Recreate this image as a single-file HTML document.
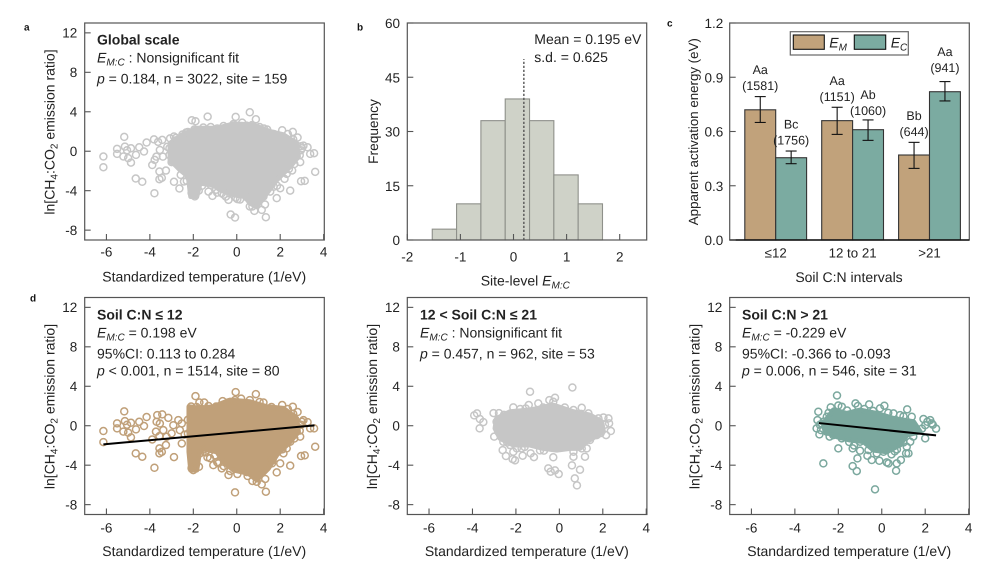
<!DOCTYPE html>
<html><head><meta charset="utf-8"><title>Apparent activation energy panels</title>
<style>
html,body{margin:0;padding:0;background:#fff}
svg{display:block}
text{font-family:"Liberation Sans",sans-serif;font-size:14px;fill:#222;text-rendering:geometricPrecision}
.pl{font-weight:bold;font-size:10px;fill:#111}
.b{font-weight:bold}
.i{font-style:italic}
.s{font-size:10px;font-style:italic}
</style></head>
<body>
<svg id="fig" width="996" height="579" viewBox="0 0 996 579" xmlns="http://www.w3.org/2000/svg">
<g id="marks"></g>
<g>
<text class="pl" x="24" y="30.7">a</text>
<text class="pl" x="357" y="30.7">b</text>
<text class="pl" x="667" y="26.7">c</text>
<text class="pl" x="30" y="301.7">d</text>
</g>
<g>
<text class="b" x="97" y="44.7">Global scale</text>
<text x="97" y="62.7"><tspan class="i">E</tspan><tspan class="s" dy="3">M:C</tspan><tspan dy="-3"> : Nonsignificant fit</tspan></text>
<text x="97" y="83.5"><tspan class="i">p</tspan> = 0.184, n = 3022, site = 159</text>
</g>
<g>
<text class="b" x="97" y="319.3">Soil C:N ≤ 12</text>
<text x="97" y="337.3"><tspan class="i">E</tspan><tspan class="s" dy="3">M:C</tspan><tspan dy="-3"> = 0.198 eV</tspan></text>
<text x="97" y="358.3">95%CI: 0.113 to 0.284</text>
<text x="97" y="375.7"><tspan class="i">p</tspan> &lt; 0.001, n = 1514, site = 80</text>
</g>
<g>
<text class="b" x="420" y="319.3">12 &lt; Soil C:N ≤ 21</text>
<text x="420" y="337.3"><tspan class="i">E</tspan><tspan class="s" dy="3">M:C</tspan><tspan dy="-3"> : Nonsignificant fit</tspan></text>
<text x="420" y="358.3"><tspan class="i">p</tspan> = 0.457, n = 962, site = 53</text>
</g>
<g>
<text class="b" x="742" y="319.3">Soil C:N &gt; 21</text>
<text x="742" y="337.3"><tspan class="i">E</tspan><tspan class="s" dy="3">M:C</tspan><tspan dy="-3"> = -0.229 eV</tspan></text>
<text x="742" y="358.3">95%CI: -0.366 to -0.093</text>
<text x="742" y="375.7"><tspan class="i">p</tspan> = 0.006, n = 546, site = 31</text>
</g>
<g>
<text x="534.3" y="44">Mean = 0.195 eV</text>
<text x="534.3" y="62">s.d. = 0.625</text>
</g>
<text x="480.7" y="285.6">Site-level <tspan class="i">E</tspan><tspan class="s" dy="3">M:C</tspan></text>
<text transform="translate(378,131.5) rotate(-90)" text-anchor="middle" style="font-size:13.7px">Frequency</text>
<text transform="translate(698,131.7) rotate(-90)" text-anchor="middle" style="font-size:13.3px">Apparent activation energy (eV)</text>
<text x="849" y="282" text-anchor="middle">Soil C:N intervals</text>
<g>
<rect x="790.3" y="31.7" width="118" height="23.3" fill="#fff" stroke="#666" stroke-width="1.2"/>
<rect x="793.3" y="35" width="31" height="14.3" fill="#c1a27b" stroke="#111" stroke-width="1.1"/>
<text x="829.3" y="47.7"><tspan class="i">E</tspan><tspan class="s" dy="3">M</tspan></text>
<rect x="854.3" y="35" width="31.4" height="14.3" fill="#7baba1" stroke="#111" stroke-width="1.1"/>
<text x="890.7" y="47.7"><tspan class="i">E</tspan><tspan class="s" dy="3">C</tspan></text>
</g>
<script>
// ---------- scatter data (x = standardized temperature, y = ln ratio) ----------
var globalCore = [[-3.07,.81],[-2.53,1.66],[-1.84,2.33],[-.92,2.33],[-.15,2.77],[.77,2.67],[1.54,1.99],[2.15,1.66],[2.76,.81],[2.84,-.54],[2.46,-1.55],[1.84,-2.91],[1.38,-4.26],[.92,-5.61],[.61,-5.27],[.38,-4.59],[-.15,-4.43],[-.77,-3.92],[-1.08,-3.41],[-1.69,-3.24],[-1.84,-4.59],[-2.12,-4.59],[-2.23,-2.57],[-2.61,-1.89],[-3.07,-.88]];
var globalPoints = [[-6.14,-.54],[-6.14,-1.62],[-5.51,.24],[-5.51,-.27],[-5.18,1.45],[-5.15,.47],[-5.22,-.54],[-5,-.7],[-4.87,.3],[-4.87,-1.15],[-5.05,.1],[-4.64,-.37],[-4.49,.4],[-4.27,-.03],[-4.15,.88],[-3.81,1.2],[-3.43,1.15],[-3.62,.95],[-4.65,-2.77],[-4.35,-3.1],[-3.79,-4.26],[-3.89,-1.4],[-3.7,-.55],[-3.78,-.88],[-3.54,.13],[-3.56,-2.06],[-3.56,-2.84],[-3.45,-2.7],[-3.26,-1.96],[-2.89,-3.1],[-2.64,-3.78],[-2.43,-3.07],[-2.58,-2.4],[-3.07,1.3],[-2.89,1.49],[-3.2,.45],[-3.4,-.55],[-3,-1.1],[-2.8,1.35],[-2.07,3.14],[-1.9,3.04],[-1.34,3.51],[-.05,3.48],[.6,3.95],[.88,3.24],[-.15,2.76],[-.61,2.56],[-1.54,2.4],[-2.33,1.9],[.25,2.9],[.7,2.65],[1.25,2.3],[2.09,2.13],[2.58,1.96],[2.8,1.39],[3.07,.57],[3.26,.4],[3.38,-.27],[3.56,-.2],[3.61,-2.09],[2.96,-3.04],[3.13,-3],[2.46,-3.99],[2.92,-1.1],[2.3,-2.3],[2.55,-1.95],[2.2,-2.8],[1.84,-4.76],[1.34,-6.69],[.81,-6.05],[1.15,-5.95],[-.28,-6.42],[-.08,-6.72],[-2,-4.4],[-2.08,-4.22],[-1.93,-4.58],[-1.12,-4.53],[-.38,-4.93],[.03,-4.86],[.46,-4.66],[1.23,-4.59],[1.54,-4.09],[2,-3.75],[-1.3,-4.09],[-.69,-4.26],[1.3,-5.4],[.72,-5.6],[1.7,-3.6],[1.85,-3.5],[-1.35,-3.2],[-1.2,-3.4],[-.95,-3.9],[-1.6,-3.5],[-1.75,-4],[-2.3,-3],[-.5,-4.6],[.15,-4.9],[3,.3],[2.95,.5],[-2.8,1.1],[-2.5,1.7],[-2.25,1.95],[-1.95,2.2],[-1.2,2.45],[-.9,2.3],[.45,2.6],[1.05,2.45],[1.4,2.2],[1.7,1.75],[2.35,1.75],[2.6,1.2],[2.95,.1],[2.9,-.4],[2.65,-1.3],[2.4,-1.8],[1.6,-3.4],[1.2,-4.2],[.9,-5],[.6,-5.6],[-.05,-4.7],[-.6,-4.4],[-.9,-4.2],[-1.5,-3.1],[-2.3,-1.9],[-2.6,-1.5],[-2.95,-1],[-3.1,-.4],[-3.1,.3]];
var lowCore = [[-2.2,1.93],[-1.69,1.76],[-1.08,1.93],[-.31,2.6],[.61,2.43],[1.38,1.93],[2.15,1.76],[2.76,.74],[2.84,-.61],[2.46,-1.62],[1.84,-2.97],[1.46,-4.32],[.92,-5.51],[.54,-4.83],[-.15,-4.49],[-.61,-3.65],[-.92,-2.64],[-1.69,-2.3],[-1.84,-4.49],[-2.12,-4.49],[-2.2,-2.64]];
var lowPoints = [[-6.14,-.54],[-6.14,-1.66],[-5.51,.24],[-5.51,-.27],[-5.18,1.45],[-5.15,.47],[-5.22,-.6],[-5,-.7],[-4.87,.3],[-4.87,-1.18],[-5.05,.1],[-4.64,-.37],[-4.49,.4],[-4.27,-.03],[-4.15,.88],[-4.65,-2.8],[-4.35,-3.14],[-3.79,-4.26],[-3.89,-1.39],[-3.66,1.08],[-3.43,1.15],[-3.69,.4],[-3.54,.22],[-3.72,-.6],[-3.56,-1.05],[-3.56,-2.3],[-3.56,-2.8],[-3.45,-2.65],[-3.26,-1.96],[-2.89,-3.18],[-3.15,.8],[-2.92,.05],[-3.38,-.45],[-2.69,.57],[-2.53,.23],[-2.53,-1.8],[-3,-.78],[-3.23,-1.12],[-2.62,-.45],[-2.4,-.9],[-1.9,3],[-1.72,2.36],[-1.5,2.36],[-.65,2.5],[-.05,3.41],[-.08,2.6],[.6,2.6],[.88,3.2],[1.23,2.36],[2.09,2.1],[2.58,1.93],[2.8,1.39],[3.07,.57],[3.26,.37],[3.38,-.27],[3.56,-.27],[3.61,-2.13],[2.96,-3.07],[3.13,-3],[2.46,-4.05],[2.92,-1.11],[-.08,-6.76],[1.34,-6.69],[1.15,-5.95],[.72,-5.6],[.92,-5.68],[1.31,-5.4],[1.84,-4.73],[-.38,-5],[.03,-4.9],[.46,-4.7],[-2,-4.5],[-2.08,-4.3],[-1.08,-4],[-1.35,-3.2],[-1.23,-3.3],[-.85,-3.82],[-.69,-4.32],[-1.69,-2.8],[-1.74,-4.16],[2,-3.82],[1.62,-3.82],[2.3,-2.3],[2.15,-2.8],[2.46,-1.62],[-1.45,-2.7],[-1,-3],[-.6,-4.1],[1.65,-3.5],[3,.4],[-2.1,1.95],[-1.85,1.9],[-1.3,2],[-.95,1.95],[-.4,2.35],[.2,2.75],[1.05,2.4],[1.6,1.9],[2.35,1.7],[2.6,1.2],[2.95,.1],[2.9,-.5],[2.65,-1.3],[2.1,-2.4],[1.55,-3.4],[1.25,-4.5],[.5,-5.1],[-.3,-4.6],[-.9,-3.7],[-1.5,-2.4],[-2.25,-.8],[-2.25,.6]];
var midCore = [[-2.89,.74],[-2.27,1.42],[-1.35,1.59],[-.28,2.09],[.65,1.42],[1.41,1.08],[1.95,.41],[2.03,-.61],[1.26,-1.62],[.95,-2.3],[.49,-2.3],[-.12,-2.47],[-.74,-2.3],[-1.35,-1.96],[-2.12,-1.96],[-2.73,-1.28],[-2.96,-.27]];
var midPoints = [[-3.92,1.05],[-3.79,1.25],[-3.66,.68],[-3.5,.37],[-3.67,-.27],[-3.03,1.28],[-2.78,1.28],[-1.35,3.45],[-1.41,2.1],[-.97,2.26],[-.46,2.6],[-.2,2.84],[.6,3.88],[1.03,1.82],[-2.12,1.86],[-3,-1.11],[-2.61,-2.47],[-2.46,-3.07],[-2.15,-3.38],[-2.04,-3.51],[-2.12,-2.64],[-1.69,-3.04],[-1.32,-2.8],[-1.17,-3.18],[-.51,-4.32],[-.4,-4.66],[-.2,-4.53],[-.03,-4.9],[-.28,-3.2],[.58,-4.02],[.95,-4.46],[.71,-5.34],[.81,-6.05],[.65,-3.14],[1.18,-3.14],[-.71,-2.53],[-1.74,-2.3],[2.03,.84],[2.26,.74],[2.37,-.54],[2.15,-.95],[2.29,.24],[1.8,.74],[1.34,1.25],[.65,1.59],[-2.89,.4],[-2.81,-.61],[-2.58,-1.62],[-2.27,-1.96],[-1.96,-2.3],[-.89,-2.5],[1.03,-2.3],[1.26,-2.3],[.65,-2.64],[1.41,-1.45],[1.72,-.95],[-.28,2.43],[.25,1.85],[-1.8,1.7],[-2.55,1.1],[-1.55,1.75],[-.75,1.85],[1,1.2],[2.1,.1],[1.9,-.75],[-1.6,-2.15],[-2.4,-1.7]];
var highCore = [[-2.69,.24],[-2.23,1.59],[-1.61,1.25],[-1,1.59],[-.23,1.25],[.54,.74],[1.46,.41],[1.77,-.61],[1.15,-.95],[.84,-1.96],[.23,-2.64],[-.38,-2.47],[-.84,-1.62],[-1.46,-1.45],[-2.07,-1.11],[-2.61,-.61]];
var highPoints = [[-2.92,1.42],[-2.96,.57],[-3,-.27],[-2.87,-.88],[-2.69,-3.82],[-2.06,3.07],[-2.35,1.86],[-1.84,1.93],[-2,2.05],[-1.21,2.26],[-1.1,2],[-.58,2.16],[.12,2.03],[-.08,1.76],[1.17,1.66],[-2,-2.3],[-1.34,-4.09],[-1.15,-4.6],[-1.12,-3.31],[-1.34,-2.3],[-1.28,-2],[-1,-2.53],[-.31,-6.45],[-.46,-3.48],[-.66,-3.04],[-.11,-3.55],[.23,-3.72],[.31,-3.82],[.66,-4.56],[.69,-3.82],[.88,-3.48],[1.12,-2.8],[1.23,-2.8],[1.15,-2.13],[1.31,-1.62],[2,-1.28],[2.5,-.3],[2.23,.57],[2.3,.24],[1.92,.68],[2,.05],[1.38,.91],[.84,1.08],[.54,1.25],[.08,-2.64],[-.23,-2.8],[-.61,-2.47],[-1,-1.62],[-1.84,-1.28],[-2.23,-.95],[-2.53,-.61],[-2.69,.4],[-2.53,.91],[-2.75,.2],[1.6,-.5],[1.45,-1.1],[1,-1.7],[.7,-2.4],[.45,-2.9],[-2.85,.1],[-2.8,-.45],[-2.45,1.3],[-1.6,1.55],[-.8,1.7],[-.4,1.5],[.3,1.3],[1,.95],[2.1,.4],[2.35,.1],[1.85,-.3],[-1.5,-1.65],[-2.4,-1.1],[.6,-2.6]];
// ---------- fit lines ----------
var lowFitX = [-6.14,3.58];
var lowFitY = [-1.89,0.03];
var highFitX = [-2.89,2.5];
var highFitY = [0.27,-0.98];
// ---------- axis ticks ----------
var scatterXTicks = [-6,-4,-2,0,2,4];
var scatterYTicks = [12,8,4,0,-4,-8];
var histXTicks = [-2,-1,0,1,2];
var histYTicks = [0,15,30,45,60];
var barYTicks = ["0.0","0.3","0.6","0.9","1.2"];
// ---------- histogram ----------
var histStart = -1.53;
var histBinWidth = 0.458;
var histCounts = [3,10,33,39,33,18,10];
var histMean = 0.195;
var histMeanTop = 50;
// ---------- bars ----------
var barCategories = ["≤12","12 to 21",">21"];
var emValues = [0.72,0.66,0.47];
var ecValues = [0.455,0.61,0.82];
var emLow = [0.65,0.584,0.396];
var emHigh = [0.793,0.734,0.54];
var ecLow = [0.422,0.551,0.769];
var ecHigh = [0.492,0.664,0.876];
var emLetters = ["Aa","Aa","Bb"];
var emCounts = ["(1581)","(1151)","(644)"];
var ecLetters = ["Bc","Ab","Aa"];
var ecCounts = ["(1756)","(1060)","(941)"];

var NS = "http://www.w3.org/2000/svg";
var root = document.getElementById("marks");
var tickStyle = "font-size:13.5px";
function mk(parent, tag, name, attrs, txt) {
  var el = document.createElementNS(NS, tag);
  
  
  for (var k in attrs) el.setAttribute(k, attrs[k]);
  if (txt !== undefined) el.textContent = txt;
  parent.appendChild(el);
  return el;
}
function frame(g, prefix, L, T, R, B) {
  mk(g, "rect", prefix + "-frame", {x:L, y:T, width:R-L, height:B-T, fill:"none", stroke:"#555", "stroke-width":1.2});
}
function scatterPanel(prefix, L, T, color, core, pts, fitX, fitY, tickGap) {
  var R = L + 239.6, B = T + 217;
  var sx = function (v) { return L + (v + 7) * 239.6 / 11.03; };
  var sy = function (v) { return T + (13 - v) * 217 / 22; };
  var g = mk(root, "g", prefix + "-panel", {});
  mk(g, "polygon", prefix + "-dense-points", {
    points: core.map(function (p) { return sx(p[0]) + "," + sy(p[1]); }).join(" "),
    fill: color, stroke: color, "stroke-width": 5, "stroke-linejoin": "round"
  });
  pts.forEach(function (p) {
    mk(g, "circle", prefix + "-point", {cx:sx(p[0]), cy:sy(p[1]), r:3.5, fill:"none", stroke:color, "stroke-width":1.5});
  });
  if (fitX) {
    mk(g, "line", prefix + "-fit-line", {x1:sx(fitX[0]), y1:sy(fitY[0]), x2:sx(fitX[1]), y2:sy(fitY[1]), stroke:"#000", "stroke-width":2});
  }
  frame(g, prefix, L, T, R, B);
  scatterXTicks.forEach(function (t) {
    mk(g, "line", prefix + "-x-tick", {x1:sx(t), x2:sx(t), y1:B, y2:B-6, stroke:"#555", "stroke-width":1.1});
    mk(g, "text", prefix + "-x-tick-label", {x:sx(t), y:B+tickGap, "text-anchor":"middle", style:tickStyle}, String(t));
  });
  scatterYTicks.forEach(function (t) {
    mk(g, "line", prefix + "-y-tick", {x1:L, x2:L+6, y1:sy(t), y2:sy(t), stroke:"#555", "stroke-width":1.1});
    mk(g, "text", prefix + "-y-tick-label", {x:L-7.4, y:sy(t)+4.7, "text-anchor":"end", style:tickStyle}, String(t));
  });
  mk(g, "text", prefix + "-x-title", {x:L+119.5, y:B+41.7, "text-anchor":"middle"}, "Standardized temperature (1/eV)");
  var yt = mk(g, "text", prefix + "-y-title", {transform:"translate(" + (L-30.4) + "," + (T+109) + ") rotate(-90)", "text-anchor":"middle"});
  yt.appendChild(document.createTextNode("ln[CH"));
  mk(yt, "tspan", prefix + "-y-title-sub-4", {"font-size":"10", dy:3}, "4");
  mk(yt, "tspan", prefix + "-y-title-mid", {dy:-3}, ":CO");
  mk(yt, "tspan", prefix + "-y-title-sub-2", {"font-size":"10", dy:3}, "2");
  mk(yt, "tspan", prefix + "-y-title-end", {dy:-3}, " emission ratio]");
}
scatterPanel("global", 84.7, 23, "#c6c6c6", globalCore, globalPoints, null, null, 16.7);
scatterPanel("low-cn", 84.7, 297.5, "#c0a079", lowCore, lowPoints, lowFitX, lowFitY, 18);
scatterPanel("mid-cn", 407.3, 297.5, "#c6c6c6", midCore, midPoints, null, null, 18);
scatterPanel("high-cn", 729.7, 297.5, "#7ba89e", highCore, highPoints, highFitX, highFitY, 18);

(function histogram() {
  var L = 407.3, R = 646.7, T = 23, B = 240;
  var sx = function (v) { return L + (v + 2) * 53.1; };
  var sy = function (v) { return B - v * 217 / 60; };
  var g = mk(root, "g", "histogram-panel", {});
  histCounts.forEach(function (c, i) {
    var x0 = sx(histStart + i * histBinWidth);
    var x1 = sx(histStart + (i + 1) * histBinWidth);
    mk(g, "rect", "histogram-bar", {x:x0, y:sy(c), width:x1-x0, height:B-sy(c), fill:"#cfd2c8", stroke:"#8e908a", "stroke-width":1.1});
  });
  mk(g, "line", "histogram-mean-line", {x1:sx(histMean), x2:sx(histMean), y1:sy(0), y2:sy(histMeanTop), stroke:"#555", "stroke-width":1.4, "stroke-dasharray":"2.2 1.8"});
  frame(g, "histogram", L, T, R, B);
  histXTicks.forEach(function (t) {
    mk(g, "line", "histogram-x-tick", {x1:sx(t), x2:sx(t), y1:B, y2:B-6, stroke:"#555", "stroke-width":1.1});
    mk(g, "text", "histogram-x-tick-label", {x:sx(t), y:B+21.7, "text-anchor":"middle", style:tickStyle}, String(t));
  });
  histYTicks.forEach(function (t) {
    mk(g, "line", "histogram-y-tick", {x1:L, x2:L+6, y1:sy(t), y2:sy(t), stroke:"#555", "stroke-width":1.1});
    mk(g, "text", "histogram-y-tick-label", {x:L-7.3, y:sy(t)+5, "text-anchor":"end", style:tickStyle}, String(t));
  });
})();

(function bars() {
  var L = 729.7, R = 969.3, T = 23, B = 240;
  var sy = function (v) { return B - v * 217 / 1.2; };
  var groupCenter = function (i) { return 775.7 + i * 76.9; };
  var w = 30.9;
  var g = mk(root, "g", "bars-panel", {});
  function series(name, color, values, low, high, letters, counts, side, shift) {
    values.forEach(function (v, i) {
      var x0 = groupCenter(i) + (side < 0 ? -w : 0);
      mk(g, "rect", name + "-bar", {x:x0, y:sy(v), width:w, height:B-sy(v), fill:color, stroke:"#333", "stroke-width":1.1});
      var cx = x0 + w / 2;
      mk(g, "line", name + "-error-bar", {x1:cx, x2:cx, y1:sy(low[i]), y2:sy(high[i]), stroke:"#111", "stroke-width":1.1});
      mk(g, "line", name + "-error-cap-top", {x1:cx-5.5, x2:cx+5.5, y1:sy(high[i]), y2:sy(high[i]), stroke:"#111", "stroke-width":1.1});
      mk(g, "line", name + "-error-cap-bottom", {x1:cx-5.5, x2:cx+5.5, y1:sy(low[i]), y2:sy(low[i]), stroke:"#111", "stroke-width":1.1});
      var top = sy(high[i]) + shift(i);
      mk(g, "text", name + "-significance", {x:cx, y:top-22.5, "text-anchor":"middle", style:"font-size:12.5px"}, letters[i]);
      mk(g, "text", name + "-sample-count", {x:cx, y:top-6.5, "text-anchor":"middle", style:"font-size:12.5px"}, counts[i]);
    });
  }
  series("em", "#c1a27b", emValues, emLow, emHigh, emLetters, emCounts, -1, function () { return 0; });
  series("ec", "#7baba1", ecValues, ecLow, ecHigh, ecLetters, ecCounts, 1, function (i) { return i === 1 ? 1.5 : (i === 2 ? -3 : 0); });
  frame(g, "bars", L, T, R, B);
  mk(g, "line", "bars-baseline", {x1:L, x2:R, y1:B, y2:B, stroke:"#111", "stroke-width":1.4});
  barYTicks.forEach(function (t) {
    mk(g, "line", "bars-y-tick", {x1:L, x2:L+6, y1:sy(+t), y2:sy(+t), stroke:"#555", "stroke-width":1.1});
    mk(g, "text", "bars-y-tick-label", {x:L-6.4, y:sy(+t)+5, "text-anchor":"end", style:tickStyle}, t);
  });
  barCategories.forEach(function (c, i) {
    mk(g, "text", "bars-category-label", {x:groupCenter(i), y:257.3, "text-anchor":"middle", style:"font-size:13.3px"}, c);
  });
})();
</script>
</svg>
</body></html>
